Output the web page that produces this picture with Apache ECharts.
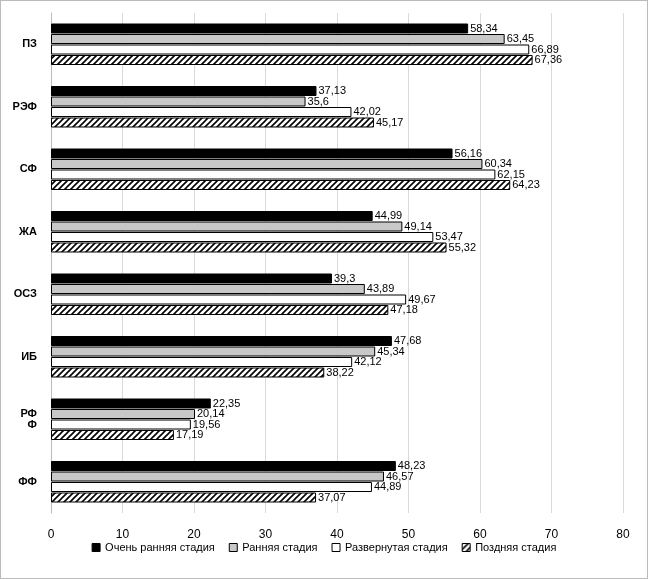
<!DOCTYPE html>
<html><head><meta charset="utf-8">
<script src="https://cdn.jsdelivr.net/npm/echarts@6/dist/echarts.min.js"></script>
<style>html,body{margin:0;padding:0;background:#fff}#c{width:648px;height:579px;box-sizing:border-box;border:1px solid #bbb}</style>
</head><body><div id="c"></div>
<script>
const categories = ['ПЗ','РЭФ','СФ','ЖА','ОСЗ','ИБ','РФ\nФ','ФФ'];
const seriesNames = ['Очень ранняя стадия','Ранняя стадия','Развернутая стадия','Поздняя стадия'];
const veryEarly = [58.34,37.13,56.16,44.99,39.3,47.68,22.35,48.23];
const early = [63.45,35.6,60.34,49.14,43.89,45.34,20.14,46.57];
const developed = [66.89,42.02,62.15,53.47,49.67,42.12,19.56,44.89];
const late = [67.36,45.17,64.23,55.32,47.18,38.22,17.19,37.07];

const pc = document.createElement('canvas'); pc.width = 6; pc.height = 6;
const g = pc.getContext('2d'); g.fillStyle='#fff'; g.fillRect(0,0,6,6);
g.strokeStyle='#000'; g.lineWidth=1.6;
g.beginPath(); g.moveTo(0,6); g.lineTo(6,0); g.moveTo(-3,3); g.lineTo(3,-3); g.moveTo(3,9); g.lineTo(9,3); g.stroke();

const fills = ['#000','#c8c8c8','#fff',{image:pc,repeat:'repeat'}];
const data = [veryEarly, early, developed, late];
const chart = echarts.init(document.getElementById('c'));
chart.setOption({
  animation:false,
  textStyle:{fontFamily:'Liberation Sans, Arial'},
  grid:{left:50,right:24,top:12,bottom:65},
  legend:{bottom:20,left:'center',icon:'rect',itemWidth:8,itemHeight:8,itemGap:14,textStyle:{fontSize:11,color:'#000'},
    data:seriesNames.map((n,i)=>({name:n,itemStyle:{color:fills[i],borderColor:'#000',borderWidth:1}}))},
  xAxis:{type:'value',min:0,max:80,interval:10,axisLabel:{fontSize:12,color:'#000',margin:16},
    splitLine:{lineStyle:{color:'#d9d9d9'}},axisLine:{show:false},axisTick:{show:false}},
  yAxis:{type:'category',data:categories,inverse:true,axisTick:{show:false},
    axisLine:{lineStyle:{color:'#bbb'}},axisLabel:{fontSize:11,fontWeight:'bold',color:'#000',margin:14}},
  series:data.map((d,i)=>({type:'bar',name:seriesNames[i],data:d,barWidth:10,barGap:'5%',
    itemStyle:{color:fills[i],borderColor:'#000',borderWidth:1},
    label:{show:true,position:'right',distance:2,fontSize:11,color:'#000',
      formatter:p=>String(p.value).replace('.',',')}}))
});
</script></body></html>
